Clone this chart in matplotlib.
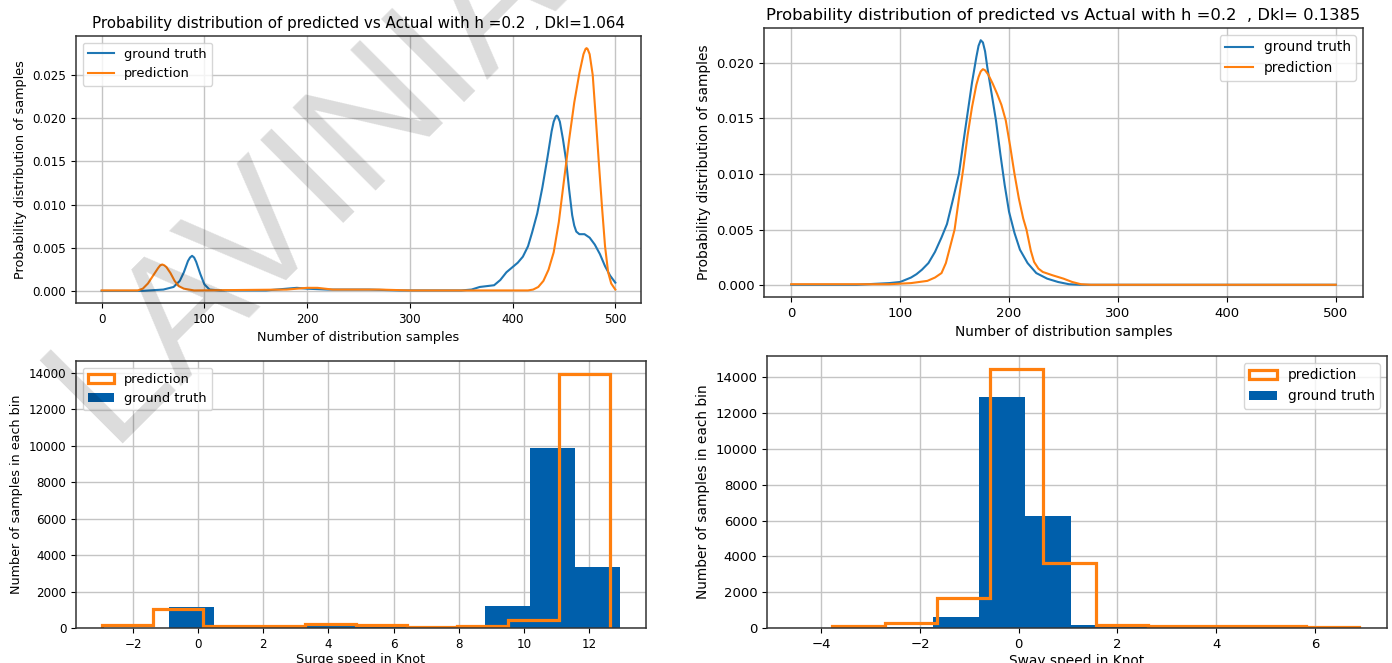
import matplotlib
matplotlib.use("Agg")
import matplotlib.pyplot as plt
import numpy as np

# ---- Kernel density curves: surge speed (top-left) ----
surge_kde_x_gt = [0, 40, 60, 70, 76, 80, 84, 86, 88, 90, 92, 96, 100, 105, 115, 160, 190,
                  200, 220, 260, 290, 350, 360, 368, 375, 382, 388, 394, 400, 405, 410,
                  415, 419, 424, 429, 434, 438, 440, 442, 443, 444, 446, 449, 452, 455,
                  458, 460, 462, 465, 470, 475, 480, 485, 490, 495, 500]
surge_kde_y_gt = [0.00005, 0.00005, 0.0002, 0.0005, 0.0012, 0.0022, 0.0035, 0.0039, 0.0041,
                  0.0039, 0.0034, 0.0020, 0.0008, 0.0002, 0.0001, 0.0001, 0.0004, 0.0003,
                  0.0002, 0.0002, 0.0001, 0.0001, 0.0002, 0.0005, 0.0006, 0.0007, 0.0013,
                  0.0022, 0.0028, 0.0033, 0.0040, 0.0052, 0.0068, 0.0090, 0.0120, 0.0155,
                  0.0185, 0.0196, 0.0202, 0.0203, 0.0202, 0.0196, 0.0176, 0.0152, 0.0118,
                  0.0088, 0.0076, 0.0069, 0.0066, 0.0066, 0.0062, 0.0054, 0.0043, 0.0029,
                  0.0018, 0.0010]
surge_kde_x_pred = [0, 35, 40, 45, 50, 55, 57, 59, 61, 63, 67, 71, 75, 80, 90, 180, 200,
                    210, 225, 270, 300, 415, 420, 425, 430, 435, 440, 445, 450, 455, 460,
                    465, 469, 471, 472, 473, 475, 478, 481, 484, 487, 490, 493, 496, 500]
surge_kde_y_pred = [0.0001, 0.0001, 0.0003, 0.0009, 0.0018, 0.0027, 0.0030, 0.0031, 0.0030,
                    0.0028, 0.0021, 0.0012, 0.0006, 0.0003, 0.0001, 0.0002, 0.0004, 0.0004,
                    0.0002, 0.0002, 0.0001, 0.0001, 0.0002, 0.0005, 0.0012, 0.0025, 0.0045,
                    0.0080, 0.0128, 0.0175, 0.0218, 0.0252, 0.0274, 0.0280, 0.0281, 0.0280,
                    0.0274, 0.0250, 0.0200, 0.0148, 0.0098, 0.0052, 0.0022, 0.0009, 0.0002]

# ---- Kernel density curves: sway speed (top-right) ----
sway_kde_x_gt = [0, 60, 90, 100, 110, 115, 120, 126, 132, 138, 143, 148, 154, 158, 162,
                 166, 170, 172, 174, 176, 178, 180, 184, 188, 192, 196, 200, 205, 210, 217,
                 225, 235, 245, 255, 265, 500]
sway_kde_y_gt = [0.00005, 0.00005, 0.0002, 0.0003, 0.0007, 0.0010, 0.0014, 0.0020, 0.0030,
                 0.0043, 0.0055, 0.0075, 0.0100, 0.0128, 0.0155, 0.0182, 0.0205, 0.0215,
                 0.0220, 0.0218, 0.0210, 0.0196, 0.0172, 0.0148, 0.0118, 0.0090, 0.0066,
                 0.0047, 0.0032, 0.0020, 0.0011, 0.0006, 0.0003, 0.0001, 0.00005, 0.00005]
sway_kde_x_pred = [0, 90, 110, 125, 132, 138, 142, 146, 150, 154, 158, 162, 166, 170, 172,
                   174, 176, 178, 181, 185, 189, 193, 197, 201, 205, 209, 213, 216, 220,
                   223, 227, 231, 240, 250, 258, 266, 275, 500]
sway_kde_y_pred = [0.0001, 0.0001, 0.0002, 0.0004, 0.0007, 0.0011, 0.0020, 0.0035, 0.0050,
                   0.0078, 0.0105, 0.0135, 0.0160, 0.0180, 0.0187, 0.0192, 0.0194, 0.0193,
                   0.0189, 0.0181, 0.0172, 0.0162, 0.0148, 0.0125, 0.0100, 0.0078, 0.0060,
                   0.0050, 0.0031, 0.0021, 0.0015, 0.0012, 0.0009, 0.0006, 0.0003, 0.0001,
                   0.00005, 0.00005]

# ---- Histograms: surge speed (bottom-left) ----
surge_edges_gt = [-0.90, 0.486, 1.872, 3.258, 4.644, 6.03, 7.416, 8.802, 10.188, 11.574, 12.96]
surge_counts_gt = [1130, 60, 100, 150, 100, 50, 50, 1180, 9850, 3360]
surge_edges_pred = [-2.96, -1.40, 0.16, 1.72, 3.28, 4.84, 6.40, 7.96, 9.52, 11.08, 12.64]
surge_counts_pred = [150, 1030, 100, 130, 200, 150, 70, 100, 460, 13950]

# ---- Histograms: sway speed (bottom-right) ----
sway_edges_gt = [-4.53, -3.60, -2.67, -1.74, -0.81, 0.12, 1.05, 1.98, 2.91, 3.84, 4.77]
sway_counts_gt = [5, 10, 80, 630, 12900, 6250, 150, 30, 10, 5]
sway_edges_pred = [-3.78, -2.71, -1.65, -0.58, 0.49, 1.56, 2.62, 3.69, 4.76, 5.82, 6.89]
sway_counts_pred = [110, 260, 1680, 14460, 3620, 190, 100, 100, 95, 60]

TITLE_L = "Probability distribution of predicted vs Actual with h =0.2  , Dkl=1.064"
TITLE_R = "Probability distribution of predicted vs Actual with h =0.2  , Dkl= 0.1385"

BLUE_LINE = "#1f77b4"
ORANGE = "#ff7f0e"
BAR_BLUE = "#005fab"

plt.rcParams.update({
    "font.family": "DejaVu Sans",
    "axes.edgecolor": "#333333",
    "axes.linewidth": 1.1,
    "grid.color": "#c4c4c4",
    "grid.linewidth": 1.0,
})

W, H = 1392, 663
fig = plt.figure(figsize=(W / 100, H / 100), dpi=100)


def px_axes(left, top, right, bottom):
    return fig.add_axes([left / W, 1 - bottom / H, (right - left) / W, (bottom - top) / H])


ax_tl = px_axes(76, 36, 641, 303)
ax_tr = px_axes(764, 28, 1363, 297)
ax_bl = px_axes(76, 361, 646, 628)
ax_br = px_axes(767, 356, 1387, 628)

# text sizes for the left and right columns
SIZES = {
    "left": dict(title=10.9, label=9.2, tick=8.6, legend=9.4),
    "right": dict(title=11.8, label=9.9, tick=9.5, legend=9.9),
}

# Density curves
for ax, xg, yg, xp, yp, title, loc, side in [
    (ax_tl, surge_kde_x_gt, surge_kde_y_gt, surge_kde_x_pred, surge_kde_y_pred, TITLE_L,
     "upper left", "left"),
    (ax_tr, sway_kde_x_gt, sway_kde_y_gt, sway_kde_x_pred, sway_kde_y_pred, TITLE_R,
     "upper right", "right"),
]:
    s = SIZES[side]
    ax.plot(xg, yg, color=BLUE_LINE, lw=1.5, label="ground truth")
    ax.plot(xp, yp, color=ORANGE, lw=1.5, label="prediction")
    ax.set_title(title, fontsize=s["title"])
    ax.set_xlabel("Number of distribution samples", fontsize=s["label"])
    ax.set_ylabel("Probability distribution of samples", fontsize=s["label"])
    ax.set_xticks([0, 100, 200, 300, 400, 500])
    ax.tick_params(labelsize=s["tick"])
    ax.grid(True)
    ax.legend(loc=loc, fontsize=s["legend"])

ax_tl.set_yticks([0.0, 0.005, 0.010, 0.015, 0.020, 0.025])
ax_tr.set_yticks([0.0, 0.005, 0.010, 0.015, 0.020])

# Histograms
for ax, eg, cg, ep, cp, xlabel, loc, ticks, side in [
    (ax_bl, surge_edges_gt, surge_counts_gt, surge_edges_pred, surge_counts_pred,
     "Surge speed in Knot", "upper left", [-2, 0, 2, 4, 6, 8, 10, 12], "left"),
    (ax_br, sway_edges_gt, sway_counts_gt, sway_edges_pred, sway_counts_pred,
     "Sway speed in Knot", "upper right", [-4, -2, 0, 2, 4, 6], "right"),
]:
    s = SIZES[side]
    eg = np.asarray(eg)
    ep = np.asarray(ep)
    _, _, gt_patches = ax.hist(eg[:-1], bins=eg, weights=cg, color=BAR_BLUE,
                               label="ground truth")
    _, _, pr_patches = ax.hist(ep[:-1], bins=ep, weights=cp, histtype="step",
                               color=ORANGE, lw=2.3, label="prediction")
    ax.set_xlabel(xlabel, fontsize=s["label"], labelpad=2)
    ax.set_ylabel("Number of samples in each bin", fontsize=s["label"])
    ax.set_xticks(ticks)
    ax.set_yticks(range(0, 14001, 2000))
    ax.tick_params(labelsize=s["tick"])
    ax.grid(True)
    ax.set_axisbelow(True)
    ax.legend(handles=[pr_patches[0], gt_patches[0]], labels=["prediction", "ground truth"],
              loc=loc, fontsize=s["legend"])

# Diagonal watermark
fig.text(110 / W, 1 - 444 / H, "LAVINIA", rotation=45, rotation_mode="anchor",
         ha="left", va="baseline", fontsize=123, family="Liberation Sans",
         color="black", alpha=0.14, zorder=10)

fig.savefig("out.png", dpi=100)
